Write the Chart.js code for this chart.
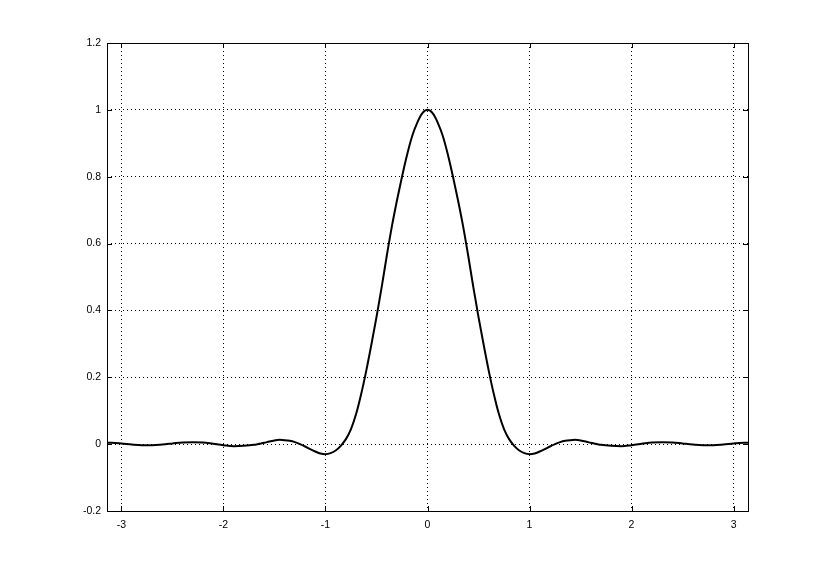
<!DOCTYPE html>
<html>
<head>
<meta charset="utf-8">
<script src="https://cdn.jsdelivr.net/npm/chart.js@4/dist/chart.umd.min.js"></script>
<style>
  html, body { margin: 0; padding: 0; background: #ffffff; }
  canvas { display: block; }
</style>
</head>
<body>
<canvas id="c" width="826" height="574"></canvas>
<script>
// ---- data ----
const xValues = [
  -3.1416, -3.10, -3.00, -2.90, -2.80, -2.70, -2.60, -2.50, -2.40, -2.30, -2.20, -2.10, -2.00,
  -1.90, -1.80, -1.70, -1.65, -1.60, -1.55, -1.50, -1.45, -1.40, -1.35, -1.30, -1.25, -1.20,
  -1.15, -1.10, -1.05, -1.00, -0.95, -0.90, -0.85, -0.80, -0.75, -0.70, -0.65, -0.60, -0.55,
  -0.50, -0.45, -0.40, -0.35, -0.30, -0.25, -0.20, -0.15, -0.10, -0.05, 0.00,
  0.05, 0.10, 0.15, 0.20, 0.25, 0.30, 0.35, 0.40, 0.45, 0.50, 0.55, 0.60, 0.65, 0.70, 0.75,
  0.80, 0.85, 0.90, 0.95, 1.00, 1.05, 1.10, 1.15, 1.20, 1.25, 1.30, 1.35, 1.40, 1.45, 1.50,
  1.55, 1.60, 1.65, 1.70, 1.80, 1.90, 2.00, 2.10, 2.20, 2.30, 2.40, 2.50, 2.60, 2.70, 2.80,
  2.90, 3.00, 3.10, 3.1416
];
const yValues = [
  0.004, 0.004, 0.002, -0.001, -0.003, -0.003, -0.001, 0.002, 0.005, 0.006, 0.005, 0.001, -0.003,
  -0.006, -0.005, -0.002, 0.001, 0.004, 0.008, 0.011, 0.013, 0.012, 0.010, 0.006, 0.000, -0.007,
  -0.015, -0.022, -0.028, -0.030, -0.027, -0.019, -0.005, 0.015, 0.045, 0.090, 0.150, 0.220, 0.298,
  0.380, 0.468, 0.562, 0.650, 0.728, 0.800, 0.866, 0.922, 0.962, 0.990, 1.000,
  0.990, 0.962, 0.922, 0.866, 0.800, 0.728, 0.650, 0.562, 0.468, 0.380, 0.298, 0.220, 0.150, 0.090, 0.045,
  0.015, -0.005, -0.019, -0.027, -0.030, -0.028, -0.022, -0.015, -0.007, 0.000, 0.006, 0.010, 0.012, 0.013, 0.011,
  0.008, 0.004, 0.001, -0.002, -0.005, -0.006, -0.003, 0.001, 0.005, 0.006, 0.005, 0.002, -0.001, -0.003, -0.003,
  -0.001, 0.002, 0.004, 0.004
];
const xTickValues = [-3, -2, -1, 0, 1, 2, 3];
const xTickLabels = ['-3', '-2', '-1', '0', '1', '2', '3'];
const yTickValues = [-0.2, 0, 0.2, 0.4, 0.6, 0.8, 1.0, 1.2];
const yTickLabels = ['-0.2', '0', '0.2', '0.4', '0.6', '0.8', '1', '1.2'];
const xMin = -3.1416, xMax = 3.1416;
const yMin = -0.2, yMax = 1.2;

const points = xValues.map((x, i) => ({ x: x, y: yValues[i] }));

function labelFor(values, labels, v) {
  for (let i = 0; i < values.length; i++) {
    if (Math.abs(values[i] - v) < 1e-9) return labels[i];
  }
  return '';
}

const frameTicks = {
  id: 'frameTicks',
  afterDraw(chart) {
    const ctx = chart.ctx;
    const a = chart.chartArea;
    const xs = chart.scales.x, ys = chart.scales.y;
    const L = 5;
    ctx.save();
    ctx.strokeStyle = '#000';
    ctx.lineWidth = 1;
    ctx.setLineDash([]);
    ctx.strokeRect(Math.round(a.left) + 0.5, Math.round(a.top) + 0.5,
                   Math.round(a.right) - Math.round(a.left), Math.round(a.bottom) - Math.round(a.top));
    ctx.beginPath();
    xTickValues.forEach(v => {
      const px = Math.round(xs.getPixelForValue(v)) + 0.5;
      ctx.moveTo(px, a.bottom); ctx.lineTo(px, a.bottom - L);
      ctx.moveTo(px, a.top); ctx.lineTo(px, a.top + L);
    });
    yTickValues.forEach(v => {
      const py = Math.round(ys.getPixelForValue(v)) + 0.5;
      ctx.moveTo(a.left, py); ctx.lineTo(a.left + L, py);
      ctx.moveTo(a.right, py); ctx.lineTo(a.right - L, py);
    });
    ctx.stroke();
    ctx.restore();
  }
};

const font = { family: '"Liberation Sans", Arial, sans-serif', size: 10.5 };

new Chart(document.getElementById('c'), {
  type: 'line',
  data: {
    datasets: [{
      data: points,
      borderColor: '#000000',
      backgroundColor: '#000000',
      borderWidth: 2,
      pointRadius: 0,
      cubicInterpolationMode: 'monotone',
      fill: false
    }]
  },
  options: {
    responsive: false,
    devicePixelRatio: 1,
    animation: false,
    events: [],
    layout: { padding: { left: 0, top: 43, right: 78, bottom: 0 } },
    plugins: { legend: { display: false }, tooltip: { enabled: false } },
    scales: {
      x: {
        type: 'linear',
        min: xMin, max: xMax,
        afterBuildTicks: s => { s.ticks = xTickValues.map(v => ({ value: v })); },
        afterFit: s => { s.height = 63; },
        ticks: {
          color: '#000', font: font, padding: 8, maxRotation: 0, autoSkip: false,
          callback: v => labelFor(xTickValues, xTickLabels, v)
        },
        grid: { color: '#000', lineWidth: 1, drawTicks: false },
        border: { display: false, dash: [1, 3] }
      },
      y: {
        type: 'linear',
        min: yMin, max: yMax,
        afterBuildTicks: s => { s.ticks = yTickValues.map(v => ({ value: v })); },
        afterFit: s => { s.width = 107; },
        ticks: {
          color: '#000', font: font, padding: 6, autoSkip: false,
          callback: v => labelFor(yTickValues, yTickLabels, v)
        },
        grid: { color: '#000', lineWidth: 1, drawTicks: false },
        border: { display: false, dash: [1, 3] }
      }
    }
  },
  plugins: [frameTicks]
});
</script>
</body>
</html>
